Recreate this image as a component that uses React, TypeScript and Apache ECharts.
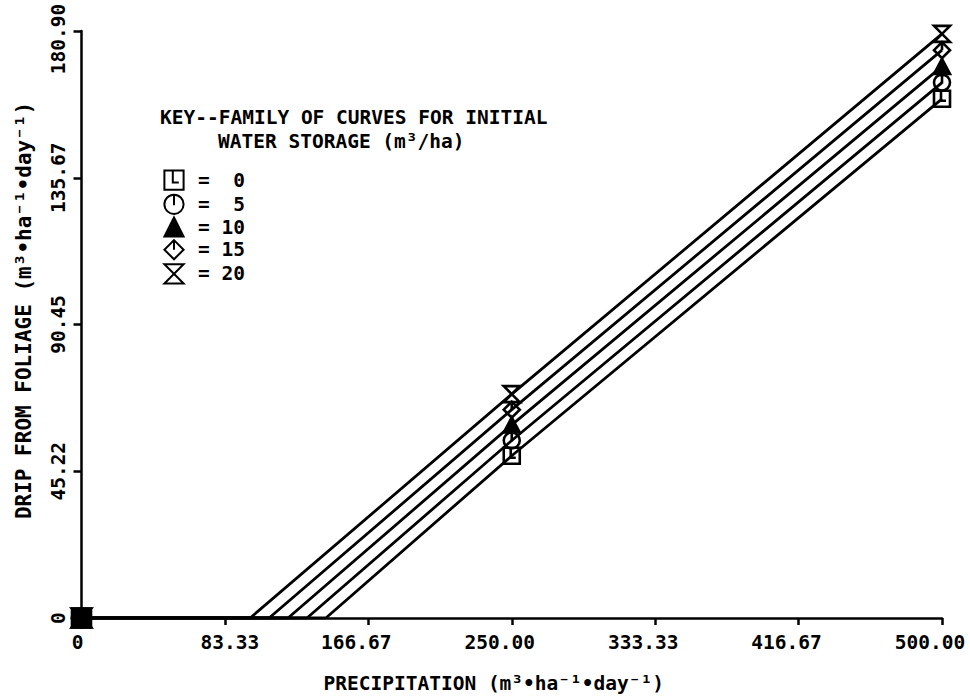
import React, { useEffect, useRef } from 'react';
import * as echarts from 'echarts';

// Initial water storage (m3/ha) for each curve
const storageLevels = [0, 5, 10, 15, 20];
// Precipitation at which drip begins (drip = 0 below it)
const zeroDripPrecip = [142, 131, 120, 109, 98];
// Drip from foliage at precipitation 250 and 500
const dripAt250 = [50.0, 54.7, 59.5, 64.2, 69.0];
const dripAt500 = [160.0, 165.0, 170.0, 175.0, 180.0];

const xTickValues = [0, 500 / 6, 1000 / 6, 250, 2000 / 6, 2500 / 6, 500];
const xTickLabels = ['0', '83.33', '166.67', '250.00', '333.33', '416.67', '500.00'];
const yTickValues = [0, 45.225, 90.45, 135.675, 180.9];
const yTickLabels = ['0', '45.22', '90.45', '135.67', '180.90'];

const symbols = [
  'path://M2 2H18V18H2Z M9 2V12H14',
  'path://M1 10A9 9 0 1 1 19 10A9 9 0 1 1 1 10Z M10 1V11',
  'path://M10 1L19 18H1Z',
  'path://M10 1L19 10L10 19L1 10Z M10 1V10',
  'path://M2 2H18L2 18H18Z',
];
const symbolFills = ['none', 'none', '#000', 'none', 'none'];

const FONT = '"DejaVu Sans Mono", monospace';
const FS = 19.5;
const NB = '\u00a0';

export default function App() {
  const ref = useRef<HTMLDivElement>(null);
  useEffect(() => {
    if (!ref.current) return;
    const chart = echarts.init(ref.current, null, { renderer: 'svg' });
    const series = storageLevels.map((lvl, i) => ({
      name: String(lvl),
      type: 'line',
      symbol: symbols[i],
      symbolSize: 16,
      symbolKeepAspect: true,
      lineStyle: { color: '#000', width: 2.8 },
      itemStyle: { color: symbolFills[i], borderColor: '#000', borderWidth: 2.6 },
      emphasis: { disabled: true },
      data: [
        { value: [0, 0], symbolSize: 19, itemStyle: { color: '#000' } },
        { value: [zeroDripPrecip[i], 0], symbol: 'none' },
        { value: [250, dripAt250[i]] },
        { value: [500, dripAt500[i]] },
      ],
    }));
    const tok = { fontFamily: FONT, fontSize: FS, fontWeight: 'bold', color: '#000' };
    chart.setOption({
      animation: false,
      backgroundColor: '#fff',
      grid: { left: 81.5, right: 28, top: 31, bottom: 80, containLabel: false, outerBoundsMode: 'none' },
      xAxis: {
        type: 'value',
        min: 0,
        max: 500,
        name: 'PRECIPITATION (m³•ha⁻¹•day⁻¹)',
        nameLocation: 'middle',
        nameGap: 55,
        nameTextStyle: { fontFamily: FONT, fontSize: FS, fontWeight: 'bold', color: '#000', padding: [0, 36, 0, 0] },
        axisLine: { lineStyle: { color: '#000', width: 2.5 } },
        axisTick: { show: true, length: 7, lineStyle: { color: '#000', width: 2.5 }, customValues: xTickValues },
        axisLabel: {
          customValues: xTickValues,
          margin: 14,
          hideOverlap: false,
          fontFamily: FONT,
          fontSize: FS,
          fontWeight: 'bold',
          color: '#000',
          rich: {
            s: { ...tok, padding: [0, 24, 0, 0] },
            f: { ...tok, padding: [0, 0, 0, 10] },
            z: { ...tok, padding: [0, 8, 0, 0] },
          },
          formatter: (v: number) => {
            const t = xTickLabels[Math.round(v / (500 / 6))];
            const k = t.length >= 6 ? 's' : t.length === 5 ? 'f' : 'z';
            return '{' + k + '|' + t + '}';
          },
        },
        splitLine: { show: false },
      },
      yAxis: {
        type: 'value',
        min: 0,
        max: 180.9,
        name: 'DRIP FROM FOLIAGE (m³•ha⁻¹•day⁻¹)',
        nameLocation: 'middle',
        nameRotate: 90,
        nameGap: 47,
        nameTextStyle: { fontFamily: FONT, fontSize: 21, fontWeight: 'bold', color: '#000', padding: [0, 0, 0, 28] },
        axisLine: { lineStyle: { color: '#000', width: 2.5 } },
        axisTick: { show: true, length: 8, lineStyle: { color: '#000', width: 2.5 }, customValues: yTickValues },
        axisLabel: {
          customValues: yTickValues,
          rotate: 90,
          margin: 13,
          fontFamily: FONT,
          fontSize: FS,
          fontWeight: 'bold',
          color: '#000',
          rich: { t: { ...tok, padding: [0, 16, 0, 0] } },
          formatter: (v: number) => {
            const t = yTickLabels[Math.round(v / 45.225)];
            return t === '180.90' ? '{t|' + t + '}' : t;
          },
        },
        splitLine: { show: false },
      },
      legend: {
        orient: 'vertical',
        left: 149,
        top: 163,
        itemWidth: 38,
        itemHeight: 24,
        itemGap: 0,
        selectedMode: false,
        data: storageLevels.map((l) => String(l)),
        formatter: (name: string) => '=' + NB + name.padStart(2, NB),
        textStyle: { fontFamily: FONT, fontSize: FS, fontWeight: 'bold', color: '#000' },
        lineStyle: { opacity: 0 },
      },
      graphic: [
        {
          type: 'text',
          left: 160,
          top: 107,
          style: { text: 'KEY--FAMILY OF CURVES FOR INITIAL', font: 'bold ' + FS + 'px ' + FONT, fill: '#000' },
        },
        {
          type: 'text',
          left: 218,
          top: 131,
          style: { text: 'WATER STORAGE (m³/ha)', font: 'bold ' + FS + 'px ' + FONT, fill: '#000' },
        },
      ],
      series,
    });
    return () => chart.dispose();
  }, []);
  return (
    <div
      ref={ref}
      style={{ position: 'fixed', left: 0, top: 0, width: 970, height: 698, background: '#fff' }}
    />
  );
}
